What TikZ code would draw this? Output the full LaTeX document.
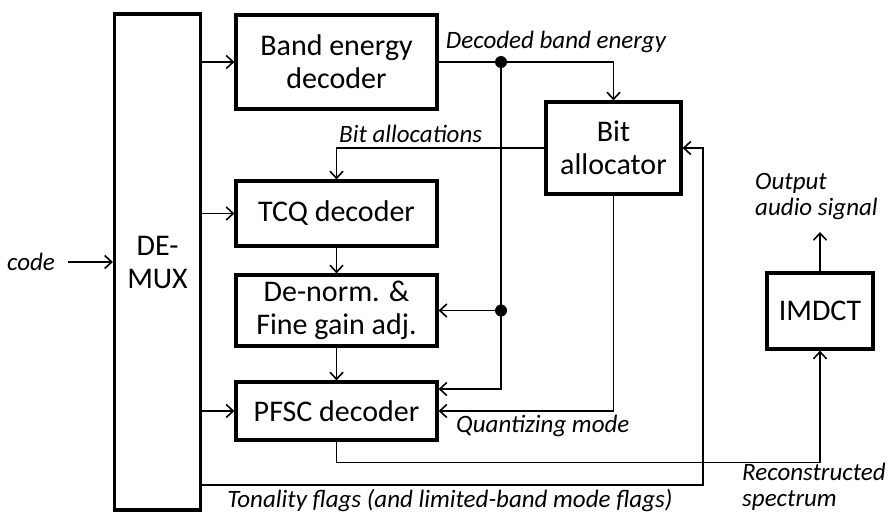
\documentclass[tikz,border=0pt]{standalone}
\usepackage{fontspec}
\setmainfont{Carlito}
\usetikzlibrary{arrows.meta}

\tikzset{
  block/.style={draw, line width=3.2pt, align=center, inner sep=0pt, font=\fontsize{30}{33}\selectfont},
  lbl/.style={inner sep=1pt, font=\fontsize{25}{26}\selectfont\itshape},
  wire/.style={line width=1.6pt},
}

\begin{document}
\begin{tikzpicture}[x=1pt, y=-1pt, >={Straight Barb[length=7pt,width=13pt]}]
                \useasboundingbox (0,0) rectangle (889,515);
                \node[block, minimum width=86pt, minimum height=496pt] (demux) at (157.5,262) {DE-\\MUX};
                \node[block, minimum width=201pt, minimum height=94pt] (band) at (336.5,62) {Band energy\\decoder};
                \node[block, minimum width=201pt, minimum height=65pt] (tcq) at (336.5,213.5) {TCQ decoder};
                \node[block, minimum width=201pt, minimum height=71pt] (denorm) at (336.5,310.5) {De-norm. \&\\Fine gain adj.};
                \node[block, minimum width=201pt, minimum height=58pt] (pfsc) at (336.5,411) {PFSC decoder};
                \node[block, minimum width=135pt, minimum height=92pt] (alloc) at (613.5,148) {Bit\\allocator};
                \node[block, minimum width=106pt, minimum height=76pt] (imdct) at (820,311) {IMDCT};

                \node[lbl] (code) at (31,262) {code};
                \draw[wire, ->, shorten <=12pt] (code) -- (code -| demux.west);
                \foreach \blk in {band, tcq, pfsc} {
                    \draw[wire, ->] (\blk.west -| demux.east) -- (\blk.west);
                }

                \coordinate (dot1) at (501,62);
                \coordinate (dot2) at (dot1 |- denorm.east);
                \draw[wire, ->] (band.east) -| (alloc.north);
                \draw[wire, ->] (dot1) -- (dot2) -- (denorm.east);
                \draw[wire, ->] (dot2) |- ([yshift=22pt]pfsc.east);
                \fill (dot1) circle (6pt);
                \fill (dot2) circle (6pt);

                \draw[wire, ->] (alloc.west) -| (tcq.north);
                \draw[wire, ->] (alloc.south) |- (pfsc.east);
                \draw[wire, ->] (tcq) -- (denorm);
                \draw[wire, ->] (denorm) -- (pfsc);

                \draw[wire, ->] (pfsc.south) -- ++(0,21) -| (imdct.south);
                \coordinate (tonal) at (703,485);
                \draw[wire, ->] (tonal -| demux.east) -- (tonal) |- (alloc.east);
                \coordinate (out) at (820,232);
                \draw[wire, ->] (imdct.north) -- (out);

                \node[lbl, anchor=base] (decbe) at (556,48) {Decoded band energy};
                \node[lbl, anchor=base west] (bitlbl) at (338,142) {Bit allocations};
                \node[lbl, anchor=base west] (qmode) at (455,432) {Quantizing mode};
                \node[lbl, anchor=north west, align=left] (recon) at (741,462) {Reconstructed\\spectrum};
                \node[lbl, anchor=north west, align=left] (outsig) at (754,172) {Output\\audio signal};
                \node[lbl, anchor=base] (tonlbl) at (450,507) {Tonality flags (and limited-band mode flags)};
            \end{tikzpicture}
\end{document}
